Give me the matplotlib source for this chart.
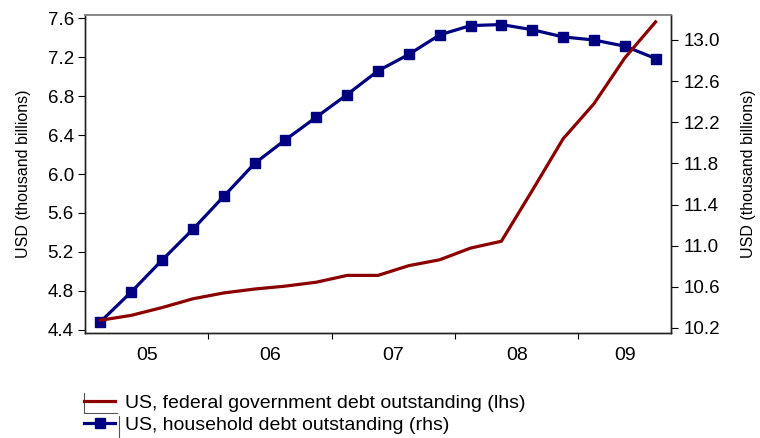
import matplotlib
matplotlib.use('Agg')
from matplotlib import pyplot as plt
from matplotlib.lines import Line2D

# quarterly series, 2005Q1 - 2009Q3
quarters = ['05Q1', '05Q2', '05Q3', '05Q4', '06Q1', '06Q2', '06Q3', '06Q4',
            '07Q1', '07Q2', '07Q3', '07Q4', '08Q1', '08Q2', '08Q3', '08Q4',
            '09Q1', '09Q2', '09Q3']
federal_debt = [4.50, 4.55, 4.63, 4.72, 4.78, 4.82, 4.85, 4.89, 4.96, 4.96,
                5.06, 5.12, 5.24, 5.31, 5.83, 6.36, 6.72, 7.19, 7.56]
household_debt = [10.26, 10.55, 10.86, 11.16, 11.48, 11.80, 12.03, 12.25,
                  12.47, 12.70, 12.86, 13.05, 13.14, 13.15, 13.10, 13.03,
                  13.00, 12.94, 12.82]
year_labels = ['05', '06', '07', '08', '09']

lhs_ticks = [4.4, 4.8, 5.2, 5.6, 6.0, 6.4, 6.8, 7.2, 7.6]
rhs_ticks = [10.2, 10.6, 11.0, 11.4, 11.8, 12.2, 12.6, 13.0]

plt.rcParams['font.family'] = 'Liberation Sans'

fig = plt.figure(figsize=(7.6, 4.38), dpi=100)
ax = fig.add_axes([85 / 760, 1 - 333 / 438, 586 / 760, 318 / 438])
ax2 = ax.twinx()
# keep the federal line on top of the household line
ax2.set_zorder(ax.get_zorder() - 1)
ax.patch.set_visible(False)

x = [i + 0.5 for i in range(len(quarters))]
red_line, = ax.plot(x, federal_debt, color='#8B0000', lw=2.3,
                    label='US, federal government debt outstanding (lhs)')
blue_line, = ax2.plot(x, household_debt, color='#000080', lw=2.3,
                      marker='s', markersize=7.5,
                      label='US, household debt outstanding (rhs)')

ax.set_xlim(0, len(quarters))
ax.set_ylim(4.369, 7.631)
ax2.set_ylim(10.151, 13.243)

# year boundaries as ticks, year names centred in each year
year_starts = [i for i, q in enumerate(quarters) if q.endswith('Q1')]
ax.set_xticks(year_starts[1:])
ax.set_xticklabels([])
centres = []
for k, s in enumerate(year_starts):
    e = year_starts[k + 1] if k + 1 < len(year_starts) else len(quarters)
    centres.append((s + e) / 2)
ax.set_xticks(centres, minor=True)
ax.set_xticklabels(year_labels, minor=True)
ax.tick_params(axis='x', which='major', length=4, direction='out')
ax.tick_params(axis='x', which='minor', length=0, pad=10, labelsize=14)

ax.set_yticks(lhs_ticks)
ax.set_yticklabels(['%.1f' % v for v in lhs_ticks])
ax2.set_yticks(rhs_ticks)
ax2.set_yticklabels(['%.1f' % v for v in rhs_ticks])
ax.tick_params(axis='y', length=5, pad=3, labelsize=13.5)
ax2.tick_params(axis='y', length=5, pad=4, labelsize=13.5)

ax.set_ylabel('USD (thousand billions)', fontsize=11.5)
ax2.set_ylabel('USD (thousand billions)', fontsize=11.5)
ax.yaxis.set_label_coords(-0.092, 0.5)
ax2.yaxis.set_label_coords(1.12, 0.5)

for a in (ax, ax2):
    for side in ('left', 'right', 'bottom'):
        a.spines[side].set_color('#222222')
        a.spines[side].set_linewidth(1.0)
    a.spines['top'].set_color('#888888')
    a.spines['top'].set_linewidth(1.2)

fig.legend(handles=[red_line, blue_line], loc='upper left',
           bbox_to_anchor=(84 / 760, 1 - 394 / 438), frameon=False,
           fontsize=14, handlelength=1.6, handletextpad=0.5,
           labelspacing=0.22, borderpad=0, borderaxespad=0)

# remnants of the legend border
fig.add_artist(Line2D([84 / 760, 84 / 760, 117 / 760],
                      [1 - 393 / 438, 1 - 413 / 438, 1 - 413 / 438],
                      color='#555555', lw=0.8, transform=fig.transFigure))
fig.add_artist(Line2D([119 / 760, 119 / 760],
                      [1 - 416 / 438, 0],
                      color='#555555', lw=0.8, transform=fig.transFigure))

fig.savefig('out.png', dpi=100)
